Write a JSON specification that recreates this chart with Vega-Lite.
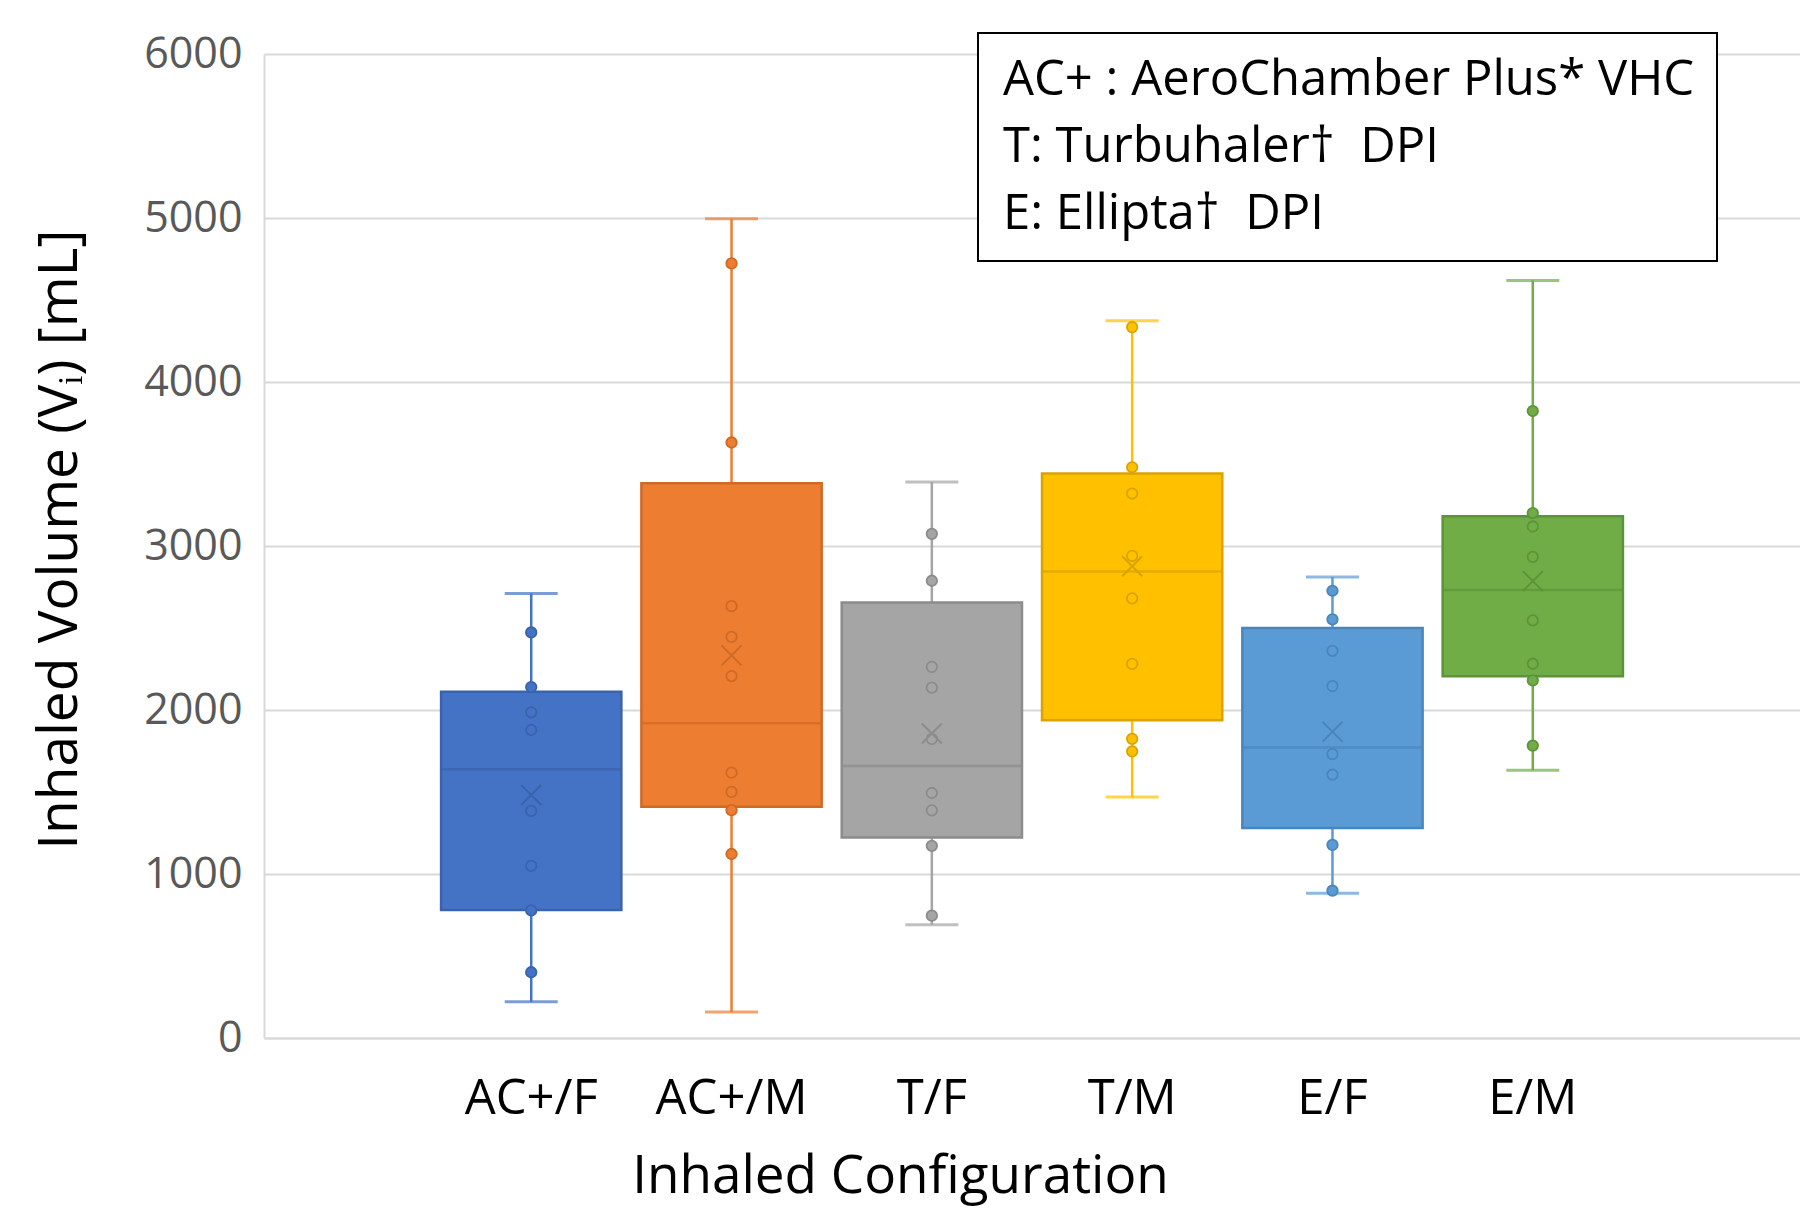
{
  "$schema": "https://vega.github.io/schema/vega-lite/v6.json",
  "width": 1536,
  "height": 984,
  "autosize": {"type": "none"},
  "padding": {"left": 264, "top": 54, "right": 0, "bottom": 175},
  "background": "white",
  "config": {
    "font": "Open Sans",
    "view": {"stroke": null},
    "axis": {"labelFont": "Open Sans", "titleFont": "Open Sans"},
    "legend": {"strokeWidth": 2}
  },
  "datasets": {
    "summary": [
      {"config": "AC+/F", "lo": 221, "q1": 780, "median": 1638, "q3": 2111, "hi": 2711, "mean": 1482},
      {"config": "AC+/M", "lo": 158, "q1": 1410, "median": 1919, "q3": 3383, "hi": 4995, "mean": 2333},
      {"config": "T/F", "lo": 691, "q1": 1223, "median": 1659, "q3": 2656, "hi": 3391, "mean": 1857},
      {"config": "T/M", "lo": 1469, "q1": 1938, "median": 2844, "q3": 3442, "hi": 4373, "mean": 2877},
      {"config": "E/F", "lo": 883, "q1": 1281, "median": 1772, "q3": 2500, "hi": 2811, "mean": 1867},
      {"config": "E/M", "lo": 1633, "q1": 2206, "median": 2732, "q3": 3182, "hi": 4619, "mean": 2786}
    ],
    "points": [
      {"config": "AC+/F", "v": 2473}, {"config": "AC+/F", "v": 2140}, {"config": "AC+/F", "v": 1986}, {"config": "AC+/F", "v": 1878},
      {"config": "AC+/F", "v": 1385}, {"config": "AC+/F", "v": 1050}, {"config": "AC+/F", "v": 778}, {"config": "AC+/F", "v": 401},
      {"config": "AC+/M", "v": 4723}, {"config": "AC+/M", "v": 3631}, {"config": "AC+/M", "v": 2633}, {"config": "AC+/M", "v": 2446},
      {"config": "AC+/M", "v": 2207}, {"config": "AC+/M", "v": 1618}, {"config": "AC+/M", "v": 1501}, {"config": "AC+/M", "v": 1389},
      {"config": "AC+/M", "v": 1122},
      {"config": "T/F", "v": 3074}, {"config": "T/F", "v": 2788}, {"config": "T/F", "v": 2263}, {"config": "T/F", "v": 2136},
      {"config": "T/F", "v": 1824}, {"config": "T/F", "v": 1494}, {"config": "T/F", "v": 1388}, {"config": "T/F", "v": 1172},
      {"config": "T/F", "v": 746},
      {"config": "T/M", "v": 4335}, {"config": "T/M", "v": 3480}, {"config": "T/M", "v": 3320}, {"config": "T/M", "v": 2940},
      {"config": "T/M", "v": 2681}, {"config": "T/M", "v": 2281}, {"config": "T/M", "v": 1824}, {"config": "T/M", "v": 1748},
      {"config": "E/F", "v": 2727}, {"config": "E/F", "v": 2553}, {"config": "E/F", "v": 2361}, {"config": "E/F", "v": 2146},
      {"config": "E/F", "v": 1731}, {"config": "E/F", "v": 1606}, {"config": "E/F", "v": 1178}, {"config": "E/F", "v": 899},
      {"config": "E/M", "v": 3823}, {"config": "E/M", "v": 3201}, {"config": "E/M", "v": 3119}, {"config": "E/M", "v": 2934},
      {"config": "E/M", "v": 2547}, {"config": "E/M", "v": 2282}, {"config": "E/M", "v": 2181}, {"config": "E/M", "v": 1783}
    ],
    "key": [
      {"label": "AC+ : AeroChamber Plus* VHC"},
      {"label": "T: Turbuhaler†\u00a0 DPI"},
      {"label": "E: Ellipta†\u00a0 DPI"}
    ]
  },
  "layer": [
    {
      "data": {"name": "summary"},
      "mark": {"type": "rule", "strokeWidth": 2.5},
      "encoding": {
        "x": {
          "field": "config", "type": "nominal",
          "scale": {"domain": ["AC+/F", "AC+/M", "T/F", "T/M", "E/F", "E/M"], "paddingInner": 0, "paddingOuter": 0.834},
          "axis": {
            "title": "Inhaled Configuration", "titleFontSize": 53, "titleFontWeight": "normal", "titleColor": "black",
            "titleX": 636, "titleY": 112, "titleBaseline": "top", "titleAlign": "center",
            "labelAngle": 0, "labelFontSize": 49, "labelColor": "black", "labelPadding": 36, "labelBaseline": "top",
            "ticks": false, "domainColor": "#D9D9D9", "domainWidth": 2, "grid": false
          }
        },
        "y": {
          "field": "lo", "type": "quantitative",
          "scale": {"domain": [0, 6000], "nice": false},
          "axis": {
            "title": "Inhaled Volume (Vᵢ) [mL]", "titleFontSize": 55, "titleFontWeight": "normal", "titleColor": "black",
            "titleX": -205, "titleY": 485, "titleAngle": 270, "titleAlign": "center", "titleBaseline": "middle",
            "values": [0, 1000, 2000, 3000, 4000, 5000, 6000], "format": "d",
            "labelFontSize": 43, "labelColor": "#595959", "labelPadding": 22,
            "ticks": false, "domainColor": "#D9D9D9", "domainWidth": 2,
            "grid": true, "gridColor": "#D9D9D9", "gridWidth": 2
          }
        },
        "y2": {"field": "hi"},
        "color": {"field": "config", "type": "nominal", "legend": null,
          "scale": {"domain": ["AC+/F", "AC+/M", "T/F", "T/M", "E/F", "E/M"], "range": ["#4472C4", "#ED7D31", "#A5A5A5", "#FFC000", "#5B9BD5", "#70AD47"]}}
      }
    },
    {
      "data": {"name": "summary"},
      "mark": {"type": "tick", "size": 53, "thickness": 3},
      "encoding": {
        "x": {"field": "config", "type": "nominal"},
        "y": {"field": "lo", "type": "quantitative"},
        "color": {"field": "config", "type": "nominal", "legend": null,
          "scale": {"domain": ["AC+/F", "AC+/M", "T/F", "T/M", "E/F", "E/M"], "range": ["#4472C4", "#ED7D31", "#A5A5A5", "#FFC000", "#5B9BD5", "#70AD47"]}}
      }
    },
    {
      "data": {"name": "summary"},
      "mark": {"type": "tick", "size": 53, "thickness": 3},
      "encoding": {
        "x": {"field": "config", "type": "nominal"},
        "y": {"field": "hi", "type": "quantitative"},
        "color": {"field": "config", "type": "nominal", "legend": null,
          "scale": {"domain": ["AC+/F", "AC+/M", "T/F", "T/M", "E/F", "E/M"], "range": ["#4472C4", "#ED7D31", "#A5A5A5", "#FFC000", "#5B9BD5", "#70AD47"]}}
      }
    },
    {
      "data": {"name": "summary"},
      "mark": {"type": "bar", "width": {"band": 0.9}, "strokeWidth": 2.5},
      "encoding": {
        "x": {"field": "config", "type": "nominal"},
        "y": {"field": "q1", "type": "quantitative"},
        "y2": {"field": "q3"},
        "fill": {"field": "config", "type": "nominal", "legend": null,
          "scale": {"domain": ["AC+/F", "AC+/M", "T/F", "T/M", "E/F", "E/M"], "range": ["#4472C4", "#ED7D31", "#A5A5A5", "#FFC000", "#5B9BD5", "#70AD47"]}},
        "stroke": {"field": "config", "type": "nominal", "legend": null,
          "scale": {"domain": ["AC+/F", "AC+/M", "T/F", "T/M", "E/F", "E/M"], "range": ["#3A63AE", "#CF6A26", "#8C8C8C", "#D9A400", "#4A85BC", "#5E9439"]}}
      }
    },
    {
      "data": {"name": "summary"},
      "mark": {"type": "tick", "size": 180, "thickness": 2.5},
      "encoding": {
        "x": {"field": "config", "type": "nominal"},
        "y": {"field": "median", "type": "quantitative"},
        "color": {"field": "config", "type": "nominal", "legend": null,
          "scale": {"domain": ["AC+/F", "AC+/M", "T/F", "T/M", "E/F", "E/M"], "range": ["#3A63AE", "#CF6A26", "#8C8C8C", "#D9A400", "#4A85BC", "#5E9439"]}}
      }
    },
    {
      "data": {"name": "points"},
      "mark": {"type": "point", "filled": true, "size": 110, "strokeWidth": 1.8, "opacity": 1},
      "encoding": {
        "x": {"field": "config", "type": "nominal"},
        "y": {"field": "v", "type": "quantitative"},
        "fill": {"field": "config", "type": "nominal", "legend": null,
          "scale": {"domain": ["AC+/F", "AC+/M", "T/F", "T/M", "E/F", "E/M"], "range": ["#4472C4", "#ED7D31", "#A5A5A5", "#FFC000", "#5B9BD5", "#70AD47"]}},
        "stroke": {"field": "config", "type": "nominal", "legend": null,
          "scale": {"domain": ["AC+/F", "AC+/M", "T/F", "T/M", "E/F", "E/M"], "range": ["#3A63AE", "#CF6A26", "#8C8C8C", "#D9A400", "#4A85BC", "#5E9439"]}}
      }
    },
    {
      "data": {"name": "summary"},
      "mark": {"type": "point", "shape": "M-1,-1L1,1M-1,1L1,-1", "size": 400, "strokeWidth": 2, "filled": false, "opacity": 1},
      "encoding": {
        "x": {"field": "config", "type": "nominal"},
        "y": {"field": "mean", "type": "quantitative"},
        "stroke": {"field": "config", "type": "nominal", "legend": null,
          "scale": {"domain": ["AC+/F", "AC+/M", "T/F", "T/M", "E/F", "E/M"], "range": ["#3A63AE", "#CF6A26", "#8C8C8C", "#D9A400", "#4A85BC", "#5E9439"]}}
      }
    },
    {
      "data": {"name": "key"},
      "mark": {"type": "point", "opacity": 0},
      "encoding": {
        "shape": {"field": "label", "type": "nominal", "sort": null,
          "legend": {
            "title": null, "orient": "none", "legendX": 714, "legendY": -21,
            "strokeColor": "black", "fillColor": "white", "padding": 22,
            "labelFont": "Open Sans", "labelFontSize": 49, "labelColor": "black", "labelLimit": 2000,
            "labelOffset": -46, "symbolSize": 0, "symbolOpacity": 0, "symbolStrokeWidth": 0,
            "rowPadding": 17, "cornerRadius": 0
          }}
      }
    }
  ],
  "resolve": {"scale": {"color": "independent", "fill": "independent", "stroke": "independent"}}
}
